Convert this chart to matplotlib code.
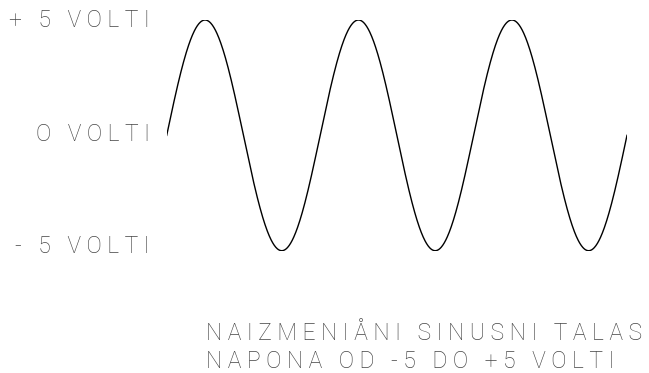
import matplotlib
matplotlib.use("Agg")
import matplotlib.pyplot as plt
import numpy as np

# signal: sinusoidal voltage, -5 V .. +5 V, three full cycles
amplitude_v = 5.0
n_cycles = 3
y_labels = ["+ 5 VOLTI", "O VOLTI", "- 5 VOLTI"]
caption = ["NAIZMENIÅNI SINUSNI TALAS", "NAPONA OD -5 DO +5 VOLTI"]

FONT = ["Roboto", "DejaVu Sans"]
TXT = "#444444"


def spaced(s):
    # wide letter tracking like the original lettering
    words = s.split(" ")
    return "   ".join(" ".join(w) for w in words)


fig = plt.figure(figsize=(6.49, 3.73), dpi=100)
ax = fig.add_axes([166.7 / 649, 1 - 250.7 / 373, 460.3 / 649, 230.7 / 373])

t = np.linspace(0, n_cycles, 1200)
ax.plot(t, amplitude_v * np.sin(2 * np.pi * t), color="black", lw=1.0)
ax.set_xlim(0, n_cycles)
ax.set_ylim(-amplitude_v, amplitude_v)
ax.axis("off")

# baselines (px from top) of the side labels
label_base = [27, 141, 253]
for lab, yb in zip(y_labels, label_base):
    fig.text(150 / 649, 1 - yb / 373, spaced(lab), ha="right", va="baseline",
             fontsize=16.5, family=FONT, fontweight="light", color=TXT)

for i, line in enumerate(caption):
    fig.text(206 / 649, 1 - (340 + 28 * i) / 373, spaced(line), ha="left",
             va="baseline", fontsize=16.5, family=FONT, fontweight="light", color=TXT)

fig.savefig("out.png", dpi=100)
